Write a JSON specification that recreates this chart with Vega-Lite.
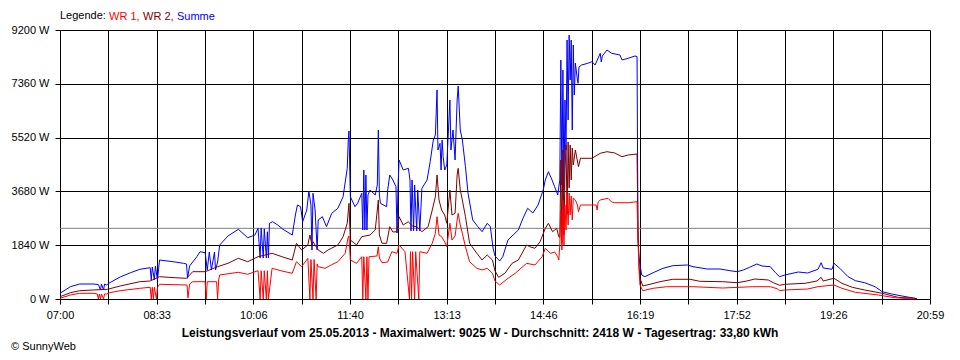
{
"$schema": "https://vega.github.io/schema/vega-lite/v6.json",
"width": 870, "height": 269,
"autosize": "none",
"padding": {"left": 60, "top": 30, "right": 30, "bottom": 61},
"background": "white",
"config": {"font": "Liberation Sans", "view": {"stroke": null},
  "axis": {"labelFont": "Liberation Sans", "labelFontSize": 11, "labelColor": "black", "gridColor": "black", "gridOpacity": 1, "gridWidth": 1, "domainColor": "black", "tickColor": "black", "tickSize": 5, "domainWidth": 1, "tickWidth": 1}},
"title": {"text": "© SunnyWeb", "orient": "bottom", "anchor": "start", "frame": "bounds", "fontSize": 11, "fontWeight": "normal", "color": "black", "font": "Liberation Sans", "offset": 3},
"datasets": {
"avg": [{"w": 2418}],
"power": [
{"t":420,"s":"Summe","w":195},{"t":430,"s":"Summe","w":421},{"t":439,"s":"Summe","w":513},{"t":452,"s":"Summe","w":513},{"t":457,"s":"Summe","w":496},{"t":459,"s":"Summe","w":308},{"t":460,"s":"Summe","w":513},{"t":462,"s":"Summe","w":308},{"t":463,"s":"Summe","w":513},{"t":465,"s":"Summe","w":479},{"t":468,"s":"Summe","w":557},{"t":478,"s":"Summe","w":752},{"t":488,"s":"Summe","w":899},{"t":497,"s":"Summe","w":1016},{"t":507,"s":"Summe","w":1070},{"t":508,"s":"Summe","w":650},{"t":509,"s":"Summe","w":1094},{"t":511,"s":"Summe","w":650},{"t":512,"s":"Summe","w":1129},{"t":514,"s":"Summe","w":650},{"t":516,"s":"Summe","w":1334},{"t":531,"s":"Summe","w":1265},{"t":539,"s":"Summe","w":1221},{"t":542,"s":"Summe","w":1197},{"t":543,"s":"Summe","w":708},{"t":545,"s":"Summe","w":1129},{"t":552,"s":"Summe","w":1447},{"t":555,"s":"Summe","w":1618},{"t":560,"s":"Summe","w":1583},{"t":562,"s":"Summe","w":992},{"t":564,"s":"Summe","w":1607},{"t":566,"s":"Summe","w":992},{"t":569,"s":"Summe","w":1607},{"t":570,"s":"Summe","w":992},{"t":572,"s":"Summe","w":1265},{"t":574,"s":"Summe","w":1847},{"t":582,"s":"Summe","w":2155},{"t":592,"s":"Summe","w":2384},{"t":601,"s":"Summe","w":2096},{"t":608,"s":"Summe","w":2189},{"t":611,"s":"Summe","w":2418},{"t":613,"s":"Summe","w":1400},{"t":614,"s":"Summe","w":2430},{"t":616,"s":"Summe","w":1400},{"t":617,"s":"Summe","w":2400},{"t":619,"s":"Summe","w":1400},{"t":620,"s":"Summe","w":2300},{"t":621,"s":"Summe","w":1400},{"t":622,"s":"Summe","w":2589},{"t":625,"s":"Summe","w":2644},{"t":630,"s":"Summe","w":2531},{"t":635,"s":"Summe","w":2384},{"t":644,"s":"Summe","w":2189},{"t":647,"s":"Summe","w":2873},{"t":649,"s":"Summe","w":3215},{"t":652,"s":"Summe","w":3157},{"t":654,"s":"Summe","w":2644},{"t":658,"s":"Summe","w":3044},{"t":660,"s":"Summe","w":3694},{"t":662,"s":"Summe","w":3215},{"t":663,"s":"Summe","w":1676},{"t":664,"s":"Summe","w":3615},{"t":666,"s":"Summe","w":3044},{"t":668,"s":"Summe","w":1676},{"t":669,"s":"Summe","w":2702},{"t":673,"s":"Summe","w":2815},{"t":677,"s":"Summe","w":2473},{"t":682,"s":"Summe","w":2931},{"t":688,"s":"Summe","w":3102},{"t":693,"s":"Summe","w":3499},{"t":697,"s":"Summe","w":4470},{"t":698,"s":"Summe","w":5438},{"t":698.7,"s":"Summe","w":5746},{"t":700,"s":"Summe","w":3499},{"t":704.5,"s":"Summe","w":3157},{"t":707,"s":"Summe","w":3273},{"t":711,"s":"Summe","w":3615},{"t":712,"s":"Summe","w":2360},{"t":713,"s":"Summe","w":4412},{"t":714,"s":"Summe","w":2360},{"t":715,"s":"Summe","w":4241},{"t":716,"s":"Summe","w":2360},{"t":717,"s":"Summe","w":3557},{"t":719,"s":"Summe","w":3728},{"t":724,"s":"Summe","w":3557},{"t":726,"s":"Summe","w":3899},{"t":727,"s":"Summe","w":5780},{"t":728,"s":"Summe","w":3557},{"t":729,"s":"Summe","w":3273},{"t":735,"s":"Summe","w":3157},{"t":736,"s":"Summe","w":3728},{"t":738,"s":"Summe","w":4241},{"t":741,"s":"Summe","w":4070},{"t":744,"s":"Summe","w":3841},{"t":745,"s":"Summe","w":2257},{"t":746,"s":"Summe","w":3865},{"t":747,"s":"Summe","w":4754},{"t":751,"s":"Summe","w":4412},{"t":756,"s":"Summe","w":4470},{"t":757.5,"s":"Summe","w":4070},{"t":758.5,"s":"Summe","w":2326},{"t":759.5,"s":"Summe","w":4070},{"t":761,"s":"Summe","w":2326},{"t":762,"s":"Summe","w":3899},{"t":764,"s":"Summe","w":2326},{"t":765,"s":"Summe","w":3728},{"t":767,"s":"Summe","w":2326},{"t":769,"s":"Summe","w":3786},{"t":774,"s":"Summe","w":4070},{"t":777,"s":"Summe","w":4696},{"t":780,"s":"Summe","w":5438},{"t":782,"s":"Summe","w":5609},{"t":783.6,"s":"Summe","w":7148},{"t":784.5,"s":"Summe","w":5096},{"t":786.5,"s":"Summe","w":5325},{"t":787.5,"s":"Summe","w":4412},{"t":788.5,"s":"Summe","w":5438},{"t":789.5,"s":"Summe","w":4867},{"t":791,"s":"Summe","w":4412},{"t":793,"s":"Summe","w":4583},{"t":796,"s":"Summe","w":6806},{"t":797,"s":"Summe","w":5096},{"t":799,"s":"Summe","w":5780},{"t":801,"s":"Summe","w":4754},{"t":803,"s":"Summe","w":6806},{"t":804,"s":"Summe","w":7285},{"t":806,"s":"Summe","w":5780},{"t":808,"s":"Summe","w":5438},{"t":811,"s":"Summe","w":4525},{"t":813.5,"s":"Summe","w":3615},{"t":818,"s":"Summe","w":2702},{"t":823,"s":"Summe","w":2473},{"t":827,"s":"Summe","w":2302},{"t":832,"s":"Summe","w":2589},{"t":835,"s":"Summe","w":2473},{"t":837.6,"s":"Summe","w":1744},{"t":839.5,"s":"Summe","w":1471},{"t":844,"s":"Summe","w":1300},{"t":847,"s":"Summe","w":1447},{"t":852,"s":"Summe","w":2018},{"t":857,"s":"Summe","w":2189},{"t":862,"s":"Summe","w":2360},{"t":866.5,"s":"Summe","w":2760},{"t":871,"s":"Summe","w":3102},{"t":876,"s":"Summe","w":2941},{"t":881,"s":"Summe","w":3215},{"t":886,"s":"Summe","w":3728},{"t":888,"s":"Summe","w":4070},{"t":891,"s":"Summe","w":4354},{"t":894.5,"s":"Summe","w":4070},{"t":897,"s":"Summe","w":3841},{"t":900,"s":"Summe","w":3557},{"t":902,"s":"Summe","w":4070},{"t":903,"s":"Summe","w":8174},{"t":904,"s":"Summe","w":3899},{"t":905,"s":"Summe","w":7832},{"t":906,"s":"Summe","w":3728},{"t":907,"s":"Summe","w":6806},{"t":908,"s":"Summe","w":5096},{"t":909,"s":"Summe","w":8858},{"t":910,"s":"Summe","w":6122},{"t":911,"s":"Summe","w":9025},{"t":912,"s":"Summe","w":7490},{"t":913,"s":"Summe","w":8858},{"t":914,"s":"Summe","w":5780},{"t":915,"s":"Summe","w":8687},{"t":916,"s":"Summe","w":6977},{"t":917,"s":"Summe","w":8071},{"t":919,"s":"Summe","w":7490},{"t":919.6,"s":"Summe","w":7377},{"t":920.5,"s":"Summe","w":7934},{"t":923,"s":"Summe","w":8003},{"t":929,"s":"Summe","w":8061},{"t":933,"s":"Summe","w":8116},{"t":936,"s":"Summe","w":8003},{"t":941,"s":"Summe","w":8403},{"t":942,"s":"Summe","w":8105},{"t":943,"s":"Summe","w":8311},{"t":947.5,"s":"Summe","w":8516},{"t":952,"s":"Summe","w":8403},{"t":960,"s":"Summe","w":8345},{"t":962,"s":"Summe","w":8174},{"t":968,"s":"Summe","w":8232},{"t":974.5,"s":"Summe","w":8311},{"t":976.5,"s":"Summe","w":8293},{"t":977.4,"s":"Summe","w":2018},{"t":978.4,"s":"Summe","w":1436},{"t":979.3,"s":"Summe","w":1163},{"t":981,"s":"Summe","w":821},{"t":984,"s":"Summe","w":763},{"t":992,"s":"Summe","w":899},{"t":1001.5,"s":"Summe","w":1050},{"t":1011,"s":"Summe","w":1139},{"t":1025,"s":"Summe","w":1163},{"t":1030.5,"s":"Summe","w":1105},{"t":1044,"s":"Summe","w":1026},{"t":1056.5,"s":"Summe","w":1026},{"t":1066,"s":"Summe","w":968},{"t":1073,"s":"Summe","w":934},{"t":1079,"s":"Summe","w":992},{"t":1085,"s":"Summe","w":1084},{"t":1092,"s":"Summe","w":1197},{"t":1097,"s":"Summe","w":1129},{"t":1105,"s":"Summe","w":1105},{"t":1110,"s":"Summe","w":899},{"t":1114,"s":"Summe","w":763},{"t":1119,"s":"Summe","w":821},{"t":1132,"s":"Summe","w":923},{"t":1141,"s":"Summe","w":889},{"t":1151,"s":"Summe","w":1016},{"t":1154,"s":"Summe","w":1241},{"t":1156,"s":"Summe","w":1060},{"t":1164.5,"s":"Summe","w":1016},{"t":1166.4,"s":"Summe","w":1221},{"t":1172,"s":"Summe","w":1050},{"t":1180,"s":"Summe","w":763},{"t":1187,"s":"Summe","w":626},{"t":1196,"s":"Summe","w":557},{"t":1206,"s":"Summe","w":421},{"t":1213,"s":"Summe","w":250},{"t":1222,"s":"Summe","w":171},{"t":1232,"s":"Summe","w":103},{"t":1244.5,"s":"Summe","w":24},{"t":1246.5,"s":"Summe","w":0},
{"t":420,"s":"WR 2","w":79},{"t":430,"s":"WR 2","w":215},{"t":439,"s":"WR 2","w":284},{"t":452,"s":"WR 2","w":308},{"t":466,"s":"WR 2","w":332},{"t":478,"s":"WR 2","w":445},{"t":497,"s":"WR 2","w":592},{"t":507,"s":"WR 2","w":616},{"t":516,"s":"WR 2","w":763},{"t":531,"s":"WR 2","w":728},{"t":542,"s":"WR 2","w":708},{"t":548,"s":"WR 2","w":934},{"t":560,"s":"WR 2","w":934},{"t":572,"s":"WR 2","w":1105},{"t":582,"s":"WR 2","w":1221},{"t":592,"s":"WR 2","w":1392},{"t":601,"s":"WR 2","w":1276},{"t":611,"s":"WR 2","w":1447},{"t":624.5,"s":"WR 2","w":1563},{"t":634,"s":"WR 2","w":1447},{"t":644,"s":"WR 2","w":1334},{"t":648,"s":"WR 2","w":1905},{"t":653,"s":"WR 2","w":1676},{"t":659,"s":"WR 2","w":1847},{"t":661,"s":"WR 2","w":2189},{"t":663,"s":"WR 2","w":1847},{"t":664,"s":"WR 2","w":1960},{"t":669,"s":"WR 2","w":1676},{"t":674,"s":"WR 2","w":1563},{"t":678.5,"s":"WR 2","w":1676},{"t":688,"s":"WR 2","w":1847},{"t":693,"s":"WR 2","w":2131},{"t":697,"s":"WR 2","w":2589},{"t":698.7,"s":"WR 2","w":3273},{"t":700,"s":"WR 2","w":2018},{"t":706,"s":"WR 2","w":1847},{"t":711,"s":"WR 2","w":2131},{"t":719,"s":"WR 2","w":2189},{"t":724,"s":"WR 2","w":2360},{"t":727,"s":"WR 2","w":3386},{"t":728,"s":"WR 2","w":2189},{"t":730.5,"s":"WR 2","w":1905},{"t":735,"s":"WR 2","w":1905},{"t":738,"s":"WR 2","w":2473},{"t":741,"s":"WR 2","w":2291},{"t":745,"s":"WR 2","w":2302},{"t":747,"s":"WR 2","w":2815},{"t":751,"s":"WR 2","w":2531},{"t":756,"s":"WR 2","w":2644},{"t":759.5,"s":"WR 2","w":2497},{"t":764,"s":"WR 2","w":2473},{"t":769,"s":"WR 2","w":2302},{"t":775,"s":"WR 2","w":2473},{"t":779,"s":"WR 2","w":3044},{"t":782,"s":"WR 2","w":3499},{"t":783.6,"s":"WR 2","w":4241},{"t":785.5,"s":"WR 2","w":3386},{"t":788,"s":"WR 2","w":3044},{"t":791,"s":"WR 2","w":2873},{"t":793,"s":"WR 2","w":2589},{"t":796,"s":"WR 2","w":3728},{"t":798,"s":"WR 2","w":2873},{"t":801,"s":"WR 2","w":2931},{"t":803,"s":"WR 2","w":4241},{"t":804,"s":"WR 2","w":4470},{"t":806,"s":"WR 2","w":3728},{"t":808,"s":"WR 2","w":3386},{"t":811,"s":"WR 2","w":2815},{"t":815,"s":"WR 2","w":1905},{"t":822,"s":"WR 2","w":1563},{"t":827,"s":"WR 2","w":1334},{"t":832,"s":"WR 2","w":1505},{"t":837,"s":"WR 2","w":1334},{"t":839.5,"s":"WR 2","w":958},{"t":843,"s":"WR 2","w":742},{"t":849,"s":"WR 2","w":879},{"t":856,"s":"WR 2","w":1221},{"t":862,"s":"WR 2","w":1334},{"t":870,"s":"WR 2","w":1847},{"t":873,"s":"WR 2","w":1789},{"t":878,"s":"WR 2","w":1734},{"t":883,"s":"WR 2","w":1960},{"t":888,"s":"WR 2","w":2418},{"t":891,"s":"WR 2","w":2589},{"t":895,"s":"WR 2","w":2302},{"t":899,"s":"WR 2","w":2418},{"t":901,"s":"WR 2","w":2131},{"t":902,"s":"WR 2","w":2100},{"t":903,"s":"WR 2","w":4754},{"t":904,"s":"WR 2","w":1900},{"t":905,"s":"WR 2","w":5096},{"t":906,"s":"WR 2","w":2200},{"t":907,"s":"WR 2","w":4412},{"t":908,"s":"WR 2","w":5267},{"t":909,"s":"WR 2","w":2900},{"t":910,"s":"WR 2","w":5369},{"t":911,"s":"WR 2","w":3800},{"t":912,"s":"WR 2","w":5267},{"t":913,"s":"WR 2","w":4070},{"t":914,"s":"WR 2","w":5164},{"t":915,"s":"WR 2","w":4583},{"t":917,"s":"WR 2","w":5096},{"t":920,"s":"WR 2","w":4525},{"t":922,"s":"WR 2","w":4822},{"t":923,"s":"WR 2","w":4812},{"t":933,"s":"WR 2","w":4812},{"t":941,"s":"WR 2","w":4983},{"t":947.5,"s":"WR 2","w":5038},{"t":955,"s":"WR 2","w":4993},{"t":962,"s":"WR 2","w":4867},{"t":968,"s":"WR 2","w":4925},{"t":976.5,"s":"WR 2","w":4959},{"t":977.4,"s":"WR 2","w":2360},{"t":978.4,"s":"WR 2","w":1163},{"t":979.3,"s":"WR 2","w":708},{"t":982,"s":"WR 2","w":445},{"t":989,"s":"WR 2","w":503},{"t":998.6,"s":"WR 2","w":592},{"t":1011,"s":"WR 2","w":674},{"t":1027.6,"s":"WR 2","w":674},{"t":1037,"s":"WR 2","w":605},{"t":1059,"s":"WR 2","w":592},{"t":1073,"s":"WR 2","w":557},{"t":1082.5,"s":"WR 2","w":616},{"t":1090,"s":"WR 2","w":684},{"t":1103,"s":"WR 2","w":650},{"t":1108,"s":"WR 2","w":557},{"t":1114,"s":"WR 2","w":469},{"t":1119,"s":"WR 2","w":503},{"t":1138.5,"s":"WR 2","w":537},{"t":1150,"s":"WR 2","w":616},{"t":1154,"s":"WR 2","w":742},{"t":1156,"s":"WR 2","w":616},{"t":1166.4,"s":"WR 2","w":708},{"t":1174,"s":"WR 2","w":537},{"t":1184,"s":"WR 2","w":400},{"t":1196,"s":"WR 2","w":308},{"t":1213,"s":"WR 2","w":195},{"t":1228,"s":"WR 2","w":58},{"t":1244.5,"s":"WR 2","w":24},{"t":1246.5,"s":"WR 2","w":0},
{"t":420,"s":"WR 1","w":24},{"t":430,"s":"WR 1","w":137},{"t":439,"s":"WR 1","w":195},{"t":452,"s":"WR 1","w":195},{"t":456,"s":"WR 1","w":171},{"t":457,"s":"WR 1","w":0},{"t":458,"s":"WR 1","w":171},{"t":459,"s":"WR 1","w":0},{"t":460,"s":"WR 1","w":171},{"t":462,"s":"WR 1","w":0},{"t":463,"s":"WR 1","w":171},{"t":465,"s":"WR 1","w":171},{"t":468,"s":"WR 1","w":215},{"t":478,"s":"WR 1","w":284},{"t":497,"s":"WR 1","w":366},{"t":507,"s":"WR 1","w":400},{"t":508,"s":"WR 1","w":0},{"t":509,"s":"WR 1","w":400},{"t":510,"s":"WR 1","w":0},{"t":511,"s":"WR 1","w":400},{"t":513,"s":"WR 1","w":0},{"t":514,"s":"WR 1","w":400},{"t":516,"s":"WR 1","w":503},{"t":542.5,"s":"WR 1","w":479},{"t":543.4,"s":"WR 1","w":40},{"t":545,"s":"WR 1","w":513},{"t":548,"s":"WR 1","w":592},{"t":560,"s":"WR 1","w":592},{"t":561,"s":"WR 1","w":0},{"t":562,"s":"WR 1","w":592},{"t":571,"s":"WR 1","w":592},{"t":572,"s":"WR 1","w":0},{"t":573,"s":"WR 1","w":650},{"t":574,"s":"WR 1","w":821},{"t":592,"s":"WR 1","w":913},{"t":601,"s":"WR 1","w":845},{"t":611,"s":"WR 1","w":968},{"t":613,"s":"WR 1","w":0},{"t":614,"s":"WR 1","w":968},{"t":616,"s":"WR 1","w":0},{"t":617,"s":"WR 1","w":968},{"t":619,"s":"WR 1","w":0},{"t":620,"s":"WR 1","w":968},{"t":621,"s":"WR 1","w":0},{"t":624.5,"s":"WR 1","w":1050},{"t":634,"s":"WR 1","w":958},{"t":644,"s":"WR 1","w":879},{"t":648,"s":"WR 1","w":1276},{"t":653,"s":"WR 1","w":1105},{"t":659,"s":"WR 1","w":1392},{"t":661,"s":"WR 1","w":0},{"t":662,"s":"WR 1","w":1350},{"t":664,"s":"WR 1","w":0},{"t":665,"s":"WR 1","w":1350},{"t":667,"s":"WR 1","w":0},{"t":668,"s":"WR 1","w":1200},{"t":669,"s":"WR 1","w":1105},{"t":675.6,"s":"WR 1","w":1050},{"t":682,"s":"WR 1","w":1173},{"t":688,"s":"WR 1","w":1276},{"t":695,"s":"WR 1","w":1563},{"t":698,"s":"WR 1","w":2131},{"t":698.7,"s":"WR 1","w":2155},{"t":700,"s":"WR 1","w":1334},{"t":706,"s":"WR 1","w":1221},{"t":711,"s":"WR 1","w":1447},{"t":712,"s":"WR 1","w":0},{"t":713,"s":"WR 1","w":1447},{"t":715,"s":"WR 1","w":0},{"t":716,"s":"WR 1","w":1447},{"t":717,"s":"WR 1","w":0},{"t":718,"s":"WR 1","w":1447},{"t":719,"s":"WR 1","w":1447},{"t":725.7,"s":"WR 1","w":1471},{"t":727,"s":"WR 1","w":1789},{"t":728,"s":"WR 1","w":1402},{"t":730.5,"s":"WR 1","w":1241},{"t":736,"s":"WR 1","w":1265},{"t":740,"s":"WR 1","w":1618},{"t":745,"s":"WR 1","w":1563},{"t":747,"s":"WR 1","w":1847},{"t":752.7,"s":"WR 1","w":1618},{"t":757,"s":"WR 1","w":0},{"t":758,"s":"WR 1","w":1618},{"t":759,"s":"WR 1","w":0},{"t":760,"s":"WR 1","w":1618},{"t":762,"s":"WR 1","w":0},{"t":763,"s":"WR 1","w":1618},{"t":766,"s":"WR 1","w":0},{"t":767,"s":"WR 1","w":1618},{"t":774,"s":"WR 1","w":1563},{"t":779,"s":"WR 1","w":1905},{"t":782,"s":"WR 1","w":2247},{"t":783.6,"s":"WR 1","w":2815},{"t":785.5,"s":"WR 1","w":2189},{"t":788,"s":"WR 1","w":2131},{"t":791,"s":"WR 1","w":1949},{"t":793,"s":"WR 1","w":1789},{"t":796,"s":"WR 1","w":2589},{"t":798,"s":"WR 1","w":2018},{"t":801,"s":"WR 1","w":2155},{"t":803,"s":"WR 1","w":2702},{"t":804,"s":"WR 1","w":2931},{"t":806,"s":"WR 1","w":2531},{"t":808,"s":"WR 1","w":2247},{"t":811,"s":"WR 1","w":1789},{"t":815,"s":"WR 1","w":1276},{"t":822,"s":"WR 1","w":1050},{"t":827,"s":"WR 1","w":992},{"t":832,"s":"WR 1","w":1050},{"t":837,"s":"WR 1","w":879},{"t":839.5,"s":"WR 1","w":616},{"t":844,"s":"WR 1","w":479},{"t":852,"s":"WR 1","w":708},{"t":859,"s":"WR 1","w":879},{"t":870,"s":"WR 1","w":1221},{"t":878,"s":"WR 1","w":1163},{"t":885,"s":"WR 1","w":1447},{"t":888,"s":"WR 1","w":1734},{"t":893,"s":"WR 1","w":1563},{"t":897,"s":"WR 1","w":1607},{"t":900,"s":"WR 1","w":1447},{"t":901,"s":"WR 1","w":1334},{"t":902,"s":"WR 1","w":1847},{"t":903,"s":"WR 1","w":3044},{"t":904,"s":"WR 1","w":1676},{"t":905,"s":"WR 1","w":3386},{"t":906,"s":"WR 1","w":1847},{"t":907,"s":"WR 1","w":3215},{"t":908,"s":"WR 1","w":2360},{"t":909,"s":"WR 1","w":3557},{"t":910,"s":"WR 1","w":2531},{"t":911,"s":"WR 1","w":3625},{"t":912,"s":"WR 1","w":2873},{"t":913,"s":"WR 1","w":3523},{"t":914,"s":"WR 1","w":2702},{"t":915,"s":"WR 1","w":3454},{"t":917,"s":"WR 1","w":3386},{"t":919,"s":"WR 1","w":3215},{"t":920,"s":"WR 1","w":2986},{"t":922,"s":"WR 1","w":3215},{"t":923,"s":"WR 1","w":3215},{"t":933,"s":"WR 1","w":3215},{"t":937,"s":"WR 1","w":3215},{"t":938,"s":"WR 1","w":3044},{"t":939,"s":"WR 1","w":3317},{"t":941,"s":"WR 1","w":3386},{"t":948.5,"s":"WR 1","w":3444},{"t":952,"s":"WR 1","w":3317},{"t":955,"s":"WR 1","w":3293},{"t":968,"s":"WR 1","w":3293},{"t":976.5,"s":"WR 1","w":3328},{"t":977.4,"s":"WR 1","w":2018},{"t":978.4,"s":"WR 1","w":992},{"t":979.3,"s":"WR 1","w":479},{"t":982,"s":"WR 1","w":284},{"t":992,"s":"WR 1","w":366},{"t":1005,"s":"WR 1","w":421},{"t":1030.5,"s":"WR 1","w":421},{"t":1059,"s":"WR 1","w":376},{"t":1088,"s":"WR 1","w":421},{"t":1105,"s":"WR 1","w":421},{"t":1111.5,"s":"WR 1","w":352},{"t":1114,"s":"WR 1","w":284},{"t":1119,"s":"WR 1","w":308},{"t":1141,"s":"WR 1","w":342},{"t":1151,"s":"WR 1","w":421},{"t":1166.4,"s":"WR 1","w":479},{"t":1174,"s":"WR 1","w":366},{"t":1187,"s":"WR 1","w":229},{"t":1209,"s":"WR 1","w":137},{"t":1225,"s":"WR 1","w":44},{"t":1244.5,"s":"WR 1","w":0}
]},
"encoding": {
  "y": {"field": "w", "type": "quantitative",
    "scale": {"domain": [0, 9200], "nice": false, "zero": true},
    "axis": {"title": null, "values": [0, 1840, 3680, 5520, 7360, 9200], "labelExpr": "datum.value + ' W'", "labelPadding": 6, "grid": true}}
},
"layer": [
  {"data": {"name": "avg"}, "mark": {"type": "rule", "color": "#808080", "strokeWidth": 1}},
  {"data": {"name": "power"}, "mark": {"type": "line", "strokeWidth": 1, "interpolate": "linear"},
   "encoding": {
     "x": {"field": "t", "type": "quantitative",
       "scale": {"domain": [420, 1259], "nice": false, "zero": false},
       "axis": {"values": [420, 466.611, 513.222, 559.833, 606.444, 653.056, 699.667, 746.278, 792.889, 839.5, 886.111, 932.722, 979.333, 1025.944, 1072.556, 1119.167, 1165.778, 1212.389, 1259],
         "labelExpr": "['07:00','','08:33','','10:06','','11:40','','13:13','','14:46','','16:19','','17:52','','19:26','','20:59'][round((datum.value-420)/46.6111)]",
         "labelPadding": 5, "grid": true, "labelOverlap": false, "labelFlush": false,
         "title": "Leistungsverlauf vom 25.05.2013 - Maximalwert: 9025 W - Durchschnitt: 2418 W - Tagesertrag: 33,80 kWh",
         "titleFont": "Liberation Sans", "titleFontSize": 12, "titleFontWeight": "bold", "titleColor": "black", "titlePadding": 7, "titleX": 419.5}},
     "color": {"field": "s", "type": "nominal",
       "scale": {"domain": ["WR 1", "WR 2", "Summe"], "range": ["#ff0000", "#800000", "#0000ff"]},
       "legend": {"orient": "none", "legendX": 0, "legendY": -19, "direction": "horizontal",
         "title": "Legende:", "titleOrient": "left", "titleFont": "Liberation Sans", "titleFontSize": 11, "titleFontWeight": "normal", "titleColor": "black", "titlePadding": 2,
         "labelFont": "Liberation Sans", "labelFontSize": 11, "labelOffset": -10, "columnPadding": 2,
         "symbolSize": 0, "symbolOpacity": 0, "symbolStrokeWidth": 0,
         "labelExpr": "datum.label == 'Summe' ? datum.label : datum.label + ','",
         "encode": {"labels": {"update": {"fill": {"signal": "datum.value == 'WR 1' ? '#ff0000' : datum.value == 'WR 2' ? '#800000' : '#0000ff'"}}}}}}
   }}
]
}
